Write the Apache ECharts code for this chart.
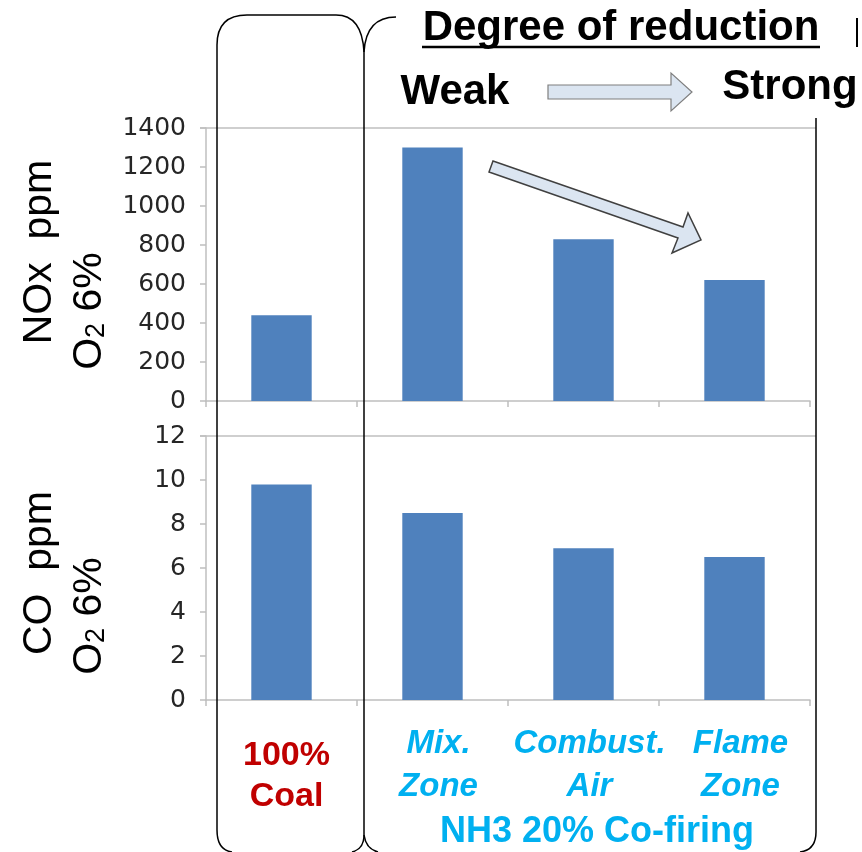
<!DOCTYPE html>
<html><head><meta charset="utf-8">
<script src="https://cdn.jsdelivr.net/npm/echarts@6/dist/echarts.min.js"></script>
<style>html,body{margin:0;padding:0;background:#fff}#c{width:862px;height:852px}</style>
</head><body><div id="c"></div>
<script>
const categories = ['100%\nCoal', 'Mix.\nZone', 'Combust.\nAir', 'Flame\nZone'];
const noxValues = [440, 1300, 830, 620];
const coValues = [9.8, 8.5, 6.9, 6.5];
const noxTicks = {min: 0, max: 1400, interval: 200};
const coTicks = {min: 0, max: 12, interval: 2};
const groupLabel = 'NH3 20% Co-firing';
const headerTitle = 'Degree of reduction';
const weakLabel = 'Weak';
const strongLabel = 'Strong';

const chart = echarts.init(document.getElementById('c'), null, {renderer: 'canvas'});
const axisGray = '#bfbfbf';
const tickFont = {fontFamily: 'DejaVu Sans', fontSize: 25, color: '#262626'};
const black = '#000';

function yAxisCfg(t, grid) {
  return {type: 'value', gridIndex: grid, min: t.min, max: t.max, interval: t.interval,
    axisLine: {show: true, lineStyle: {color: axisGray, width: 1.5}},
    axisTick: {show: true, length: 6, lineStyle: {color: axisGray, width: 1.5}},
    splitLine: {show: false},
    axisLabel: Object.assign({margin: 20, formatter: function (v) { return String(v); }}, tickFont)};
}
function xAxisCfg(grid, showLabel) {
  return {type: 'category', gridIndex: grid, data: categories, boundaryGap: true,
    axisLine: {show: true, lineStyle: {color: axisGray, width: 1.5}},
    axisTick: {show: true, length: 6, alignWithLabel: false, lineStyle: {color: axisGray, width: 1.5}},
    axisLabel: showLabel ? {
      margin: 22, interval: 0,
      formatter: function (v, i) {
        const p = v.split('\n');
        return i === 0 ? '{r0|' + p[0] + '}\n{r|' + p[1] + '}' : '{b|' + p[0] + '}\n{b|' + p[1] + '}';
      },
      rich: {
        r0: {color: '#c00000', fontFamily: 'Liberation Sans', fontWeight: 'bold', fontSize: 34, lineHeight: 46, padding: [22, 0, 0, 10]},
        r: {color: '#c00000', fontFamily: 'Liberation Sans', fontWeight: 'bold', fontSize: 34, lineHeight: 57, padding: [0, 0, 0, 10]},
        b: {color: '#00b0f0', fontFamily: 'Liberation Sans', fontWeight: 'bold', fontStyle: 'italic', fontSize: 33, lineHeight: 43, padding: [0, 0, 0, 12]}
      }
    } : {show: false}};
}

function txt(x, y, text, size, extra) {
  const el = {type: 'text', x: x, y: y, z: 100,
    style: Object.assign({text: text, fontFamily: 'Liberation Sans', fontSize: size, fill: '#000',
      align: 'center', verticalAlign: 'middle'}, (extra && extra.style) || {})};
  if (extra && extra.rotation !== undefined) el.rotation = extra.rotation;
  return el;
}
const subRich = {s: {fontSize: 27, fontFamily: 'Liberation Sans', verticalAlign: 'bottom', padding: [14, 0, 0, 0]}};
function line(x1, y1, x2, y2, color, w) {
  return {type: 'line', z: 90, shape: {x1: x1, y1: y1, x2: x2, y2: y2}, style: {stroke: color, lineWidth: w}};
}
function curve(x1, y1, cx, cy, x2, y2, color, w) {
  return {type: 'bezierCurve', z: 90, shape: {x1: x1, y1: y1, cpx1: cx, cpy1: cy, x2: x2, y2: y2},
    style: {stroke: color, lineWidth: w, fill: null}};
}
function poly(points, stroke, w, fill) {
  return {type: 'polygon', z: 95, shape: {points: points}, style: {stroke: stroke, lineWidth: w, fill: fill}};
}

chart.setOption({
  animation: false,
  grid: [
    {left: 206, top: 128, width: 604, height: 273},
    {left: 206, top: 436, width: 604, height: 264}
  ],
  xAxis: [xAxisCfg(0, false), xAxisCfg(1, true)],
  yAxis: [yAxisCfg(noxTicks, 0), yAxisCfg(coTicks, 1)],
  series: [
    {type: 'bar', xAxisIndex: 0, yAxisIndex: 0, data: noxValues, barWidth: '40%',
      itemStyle: {color: '#4f81bd'}},
    {type: 'bar', xAxisIndex: 1, yAxisIndex: 1, data: coValues, barWidth: '40%',
      itemStyle: {color: '#4f81bd'}}
  ],
  graphic: [
    // plot top borders
    line(200, 128, 816, 128, axisGray, 1.5),
    line(200, 436, 816, 436, axisGray, 1.5),
    // black frame / brackets
    line(217, 45, 217, 830, black, 1.5),
    curve(217, 45, 217, 15, 247, 15, black, 1.5),
    line(247, 15, 336, 15, black, 1.5),
    curve(336, 15, 362, 15, 364, 52, black, 1.5),
    curve(364, 52, 366, 17, 396, 17, black, 1.5),
    line(364, 52, 364, 835, black, 1.5),
    curve(217, 830, 217, 850, 232, 852, black, 1.5),
    curve(364, 835, 364, 849, 352, 852, black, 1.5),
    curve(364, 835, 366, 849, 378, 852, black, 1.5),
    line(816, 118, 816, 832, black, 1.5),
    curve(816, 832, 816, 850, 800, 852, black, 1.5),
    line(857, 18, 857, 47, black, 2),
    // header
    txt(621, 28, headerTitle, 42, {style: {fontWeight: 'bold'}}),
    line(422, 47, 820, 47, black, 2.5),
    txt(455, 92, weakLabel, 42, {style: {fontWeight: 'bold'}}),
    txt(790, 87, strongLabel, 42, {style: {fontWeight: 'bold'}}),
    poly([[548, 85], [671, 85], [671, 73], [692, 92], [671, 111], [671, 99], [548, 99]], '#7f7f7f', 1.2, '#dbe5f1'),
    line(550, 89, 670, 89, '#b8c7d9', 1),
    line(550, 94, 670, 94, '#b8c7d9', 1),
    // diagonal arrow
    poly([[493, 161], [683, 227], [688, 213], [701, 240], [672, 253], [678, 238], [489, 172]], '#404040', 1.5, '#dbe5f1'),
    // y titles
    txt(40, 252, 'NOx  ppm', 41, {rotation: Math.PI / 2}),
    txt(90, 311, 'O{s|2} 6%', 41, {rotation: Math.PI / 2, style: {rich: subRich}}),
    txt(40, 573, 'CO  ppm', 41, {rotation: Math.PI / 2}),
    txt(90, 616, 'O{s|2} 6%', 41, {rotation: Math.PI / 2, style: {rich: subRich}}),
    // group label
    txt(597, 832, groupLabel, 36, {style: {fontWeight: 'bold', fill: '#00b0f0'}})
  ]
});
</script></body></html>
